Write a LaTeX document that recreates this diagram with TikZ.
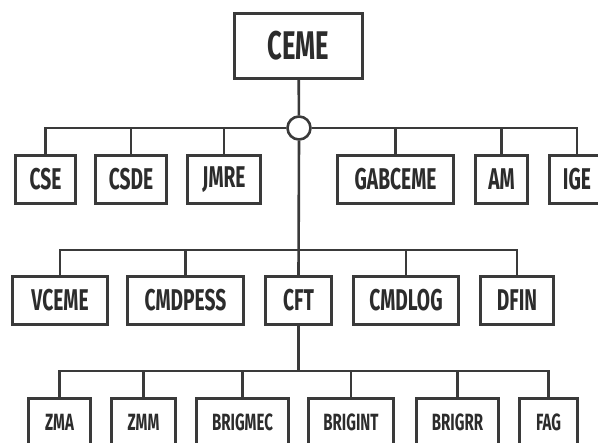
\documentclass[tikz,border=0pt]{standalone}
\usepackage{fontspec}
\newfontfamily\condfont[FakeStretch=0.64]{Fira Sans}
\definecolor{linec}{HTML}{3A3A3A}
\definecolor{textc}{HTML}{2C2C2C}
\tikzset{
  box/.style={draw=linec, line width=3pt, fill=white, inner sep=0pt, text=textc,
              font=\condfont\bfseries, minimum height=48pt},
  topbox/.style={box, font=\condfont\bfseries\fontsize{40}{40}\selectfont, minimum height=65pt},
  midbox/.style={box, font=\condfont\bfseries\fontsize{30}{30}\selectfont},
  lowbox/.style={box, font=\condfont\bfseries\fontsize{23.5}{23.5}\selectfont},
  conn/.style={draw=linec, line width=2.6pt},
  hub/.style={circle, draw=linec, line width=2.6pt, fill=white, minimum size=23pt, inner sep=0pt}
}
\begin{document}
\begin{tikzpicture}[x=1pt,y=-1pt]
\useasboundingbox (0,0) rectangle (598,443);
\clip (0,0) rectangle (598,443);
% nodes
\node[topbox, minimum width=128pt] (ceme) at (298.5,46) {CEME};
\node[hub] (hub) at (299,128) {};
% row 1
\node[midbox, minimum width=60pt]  (cse)  at (45.5,179.5) {CSE};
\node[midbox, minimum width=71pt]  (csde) at (131,179.5) {CSDE};
\node[midbox, minimum width=73pt]  (jmre) at (224,179.5) {JMRE};
\node[midbox, minimum width=116pt] (gab)  at (395.5,179.5) {GABCEME};
\node[midbox, minimum width=52pt]  (am)   at (501.5,179.5) {AM};
\node[midbox, minimum width=55pt]  (ige)  at (577,179.5) {IGE};
% row 2
\node[midbox, minimum width=95pt]  (vceme) at (60,300.5) {VCEME};
\node[midbox, minimum width=116pt] (cmdp)  at (185.5,300.5) {CMDPESS};
\node[midbox, minimum width=66pt]  (cft)   at (298.5,300.5) {CFT};
\node[midbox, minimum width=105pt] (cmdl)  at (406,300.5) {CMDLOG};
\node[midbox, minimum width=73pt]  (dfin)  at (517,300.5) {DFIN};
% row 3
\node[lowbox, minimum width=62pt] (zma)  at (59.5,422.5) {ZMA};
\node[lowbox, minimum width=64pt] (zmm)  at (143.5,422.5) {ZMM};
\node[lowbox, minimum width=92pt] (bmec) at (242.5,422.5) {BRIGMEC};
\node[lowbox, minimum width=85pt] (bint) at (351,422.5) {BRIGINT};
\node[lowbox, minimum width=82pt] (brr)  at (457.5,422.5) {BRIGRR};
\node[lowbox, minimum width=58pt] (fag)  at (548.5,422.5) {FAG};
% junctions
\coordinate (j2) at (299,250);
\coordinate (j3) at (298.5,371);
% connectors
\draw[conn] (ceme) -- (hub);
\draw[conn] (hub.west) -| (cse.north);
\draw[conn] (hub.west) -| (csde.north);
\draw[conn] (hub.west) -| (jmre.north);
\draw[conn] (hub.east) -| (gab.north);
\draw[conn] (hub.east) -| (am.north);
\draw[conn] (hub.east) -| (ige.north);
\draw[conn] (hub.south) -- (cft.north);
\draw[conn] (j2) -| (vceme.north);
\draw[conn] (j2) -| (cmdp.north);
\draw[conn] (j2) -| (cmdl.north);
\draw[conn] (j2) -| (dfin.north);
\draw[conn] (cft.south) -- (j3);
\draw[conn] (j3) -| (zma.north);
\draw[conn] (j3) -| (zmm.north);
\draw[conn] (j3) -| (bmec.north);
\draw[conn] (j3) -| (bint.north);
\draw[conn] (j3) -| (brr.north);
\draw[conn] (j3) -| (fag.north);
\end{tikzpicture}
\end{document}
